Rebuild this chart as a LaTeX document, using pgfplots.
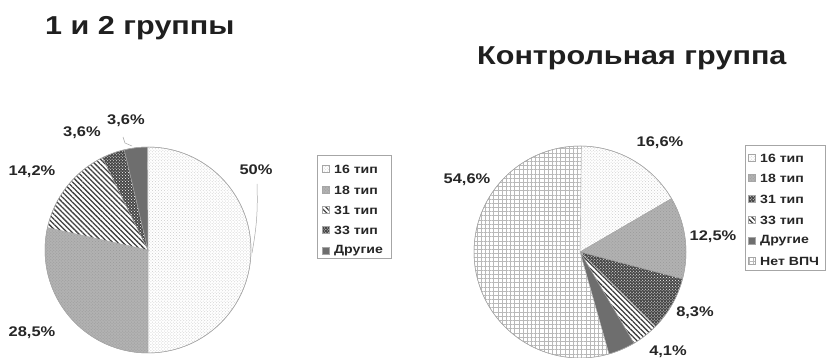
\documentclass[border=0pt]{standalone}
\usepackage{pgfplots}
\pgfplotsset{compat=1.18}
\usetikzlibrary{patterns,patterns.meta}
\usepackage{fontspec}
\setmainfont{Liberation Sans}[FakeStretch=1.18]

% slice: style, cumulative start (%), share (%), radius
% (angles are expanded now, because the axis draws its paths at the end)
\newcommand\slice[4]{%
  \pgfmathsetmacro\sa{90-3.6*#2}%
  \pgfmathsetmacro\se{90-3.6*(#2+#3)}%
  \edef\doslice{\noexpand\filldraw[#1, draw=gray!70, line width=0.4pt]
    (axis cs:0,0) -- ++(\sa:#4)
    arc[start angle=\sa, end angle=\se, radius=#4] -- cycle;}%
  \doslice}
% legend entry: style, y position, text, x of swatch
\newcommand\legitem[4]{%
  \filldraw[#1, draw=gray!70, line width=0.3pt] (axis cs:#4,#2-3.5) rectangle ++(7bp,7bp);
  \node[anchor=west, inner sep=0pt, font=\fontsize{12}{14}\selectfont\bfseries, text=black!85]
    at (axis cs:#4+12,#2) {#3};}

\tikzset{
  t16/.style={preaction={fill=white}, pattern=crosshatch dots, pattern color=gray!40},
  t18/.style={preaction={fill=gray!60}, pattern=crosshatch dots, pattern color=gray!80},
  tlines/.style={preaction={fill=white},
    pattern={Lines[angle=-45, distance=3.6pt, line width=1.3pt]}, pattern color=black!75},
  tcheck/.style={preaction={fill=black!72}, pattern=crosshatch dots, pattern color=white},
  toth/.style={fill=black!57},
  tnone/.style={preaction={fill=white},
    pattern={Hatch[angle=0, distance=4.2pt, line width=0.6pt]}, pattern color=gray!55},
  lab/.style={font=\fontsize{14}{16}\selectfont\bfseries, text=black!85},
  ttl/.style={anchor=base west, inner sep=0pt, font=\fontsize{26}{30}\selectfont\bfseries, text=black!88},
}
\pgfplotsset{
  pieaxis/.style={x=1bp, y=1bp, xmin=-110, xmax=110, ymin=-110, ymax=110,
    hide axis, clip=false, anchor=center},
}

\begin{document}
\begin{tikzpicture}
\path[use as bounding box] (0,0) rectangle (827bp,358bp);

\node[ttl] at (45bp,323bp) {1 и 2 группы};
\node[ttl] at (477bp,293bp) {Контрольная группа};

% groups 1 and 2
\begin{axis}[pieaxis, at={(148bp,108bp)}]
  \slice{t16}{0}{50}{103bp}
  \slice{t18}{50}{28.5}{103bp}
  \slice{tlines}{78.5}{14.2}{103bp}
  \slice{tcheck}{92.7}{3.6}{103bp}
  \slice{toth}{96.3}{3.6}{103bp}
  \draw[gray!70, line width=0.5pt] (axis cs:0,0) circle[radius=103bp];
  \node[lab] at (axis cs:108,80) {50\%};
  \node[lab] at (axis cs:-116,78) {14,2\%};
  \node[lab] at (axis cs:-66,117) {3,6\%};
  \node[lab] at (axis cs:-22,129) {3,6\%};
  \node[lab] at (axis cs:-116,-83) {28,5\%};
  \draw[gray!70, line width=0.5pt] (axis cs:109,66) to[bend left=6] (axis cs:104,-3);
  \draw[gray!70, line width=0.5pt] (axis cs:-25,113) -- (axis cs:-23,107) -- (axis cs:-16,104);
  \draw[gray!70, line width=0.5pt] (axis cs:169,-8) rectangle (axis cs:243,95);
  \legitem{t16}{81}{16 тип}{174}
  \legitem{t18}{60}{18 тип}{174}
  \legitem{tlines}{40}{31 тип}{174}
  \legitem{tcheck}{20}{33 тип}{174}
  \legitem{toth}{-1}{Другие}{174}
\end{axis}

% control group
\begin{axis}[pieaxis, at={(580bp,106bp)}]
  \slice{t16}{0}{16.6}{106bp}
  \slice{t18}{16.6}{12.5}{106bp}
  \slice{tcheck}{29.1}{8.3}{106bp}
  \slice{tlines}{37.4}{4.1}{106bp}
  \slice{toth}{41.5}{4.1}{106bp}
  \slice{tnone}{45.6}{54.6}{106bp}
  \draw[gray!70, line width=0.5pt] (axis cs:0,0) circle[radius=106bp];
  \node[lab] at (axis cs:80,109) {16,6\%};
  \node[lab] at (axis cs:-113,72) {54,6\%};
  \node[lab] at (axis cs:133,15) {12,5\%};
  \node[lab] at (axis cs:115,-61) {8,3\%};
  \node[lab] at (axis cs:88,-100) {4,1\%};
  \draw[gray!70, line width=0.5pt] (axis cs:165,-18) rectangle (axis cs:245,107);
  \legitem{t16}{94}{16 тип}{168}
  \legitem{t18}{74}{18 тип}{168}
  \legitem{tcheck}{53}{31 тип}{168}
  \legitem{tlines}{32}{33 тип}{168}
  \legitem{toth}{11}{Другие}{168}
  \legitem{tnone}{-9}{Нет ВПЧ}{168}
\end{axis}
\end{tikzpicture}
\end{document}
